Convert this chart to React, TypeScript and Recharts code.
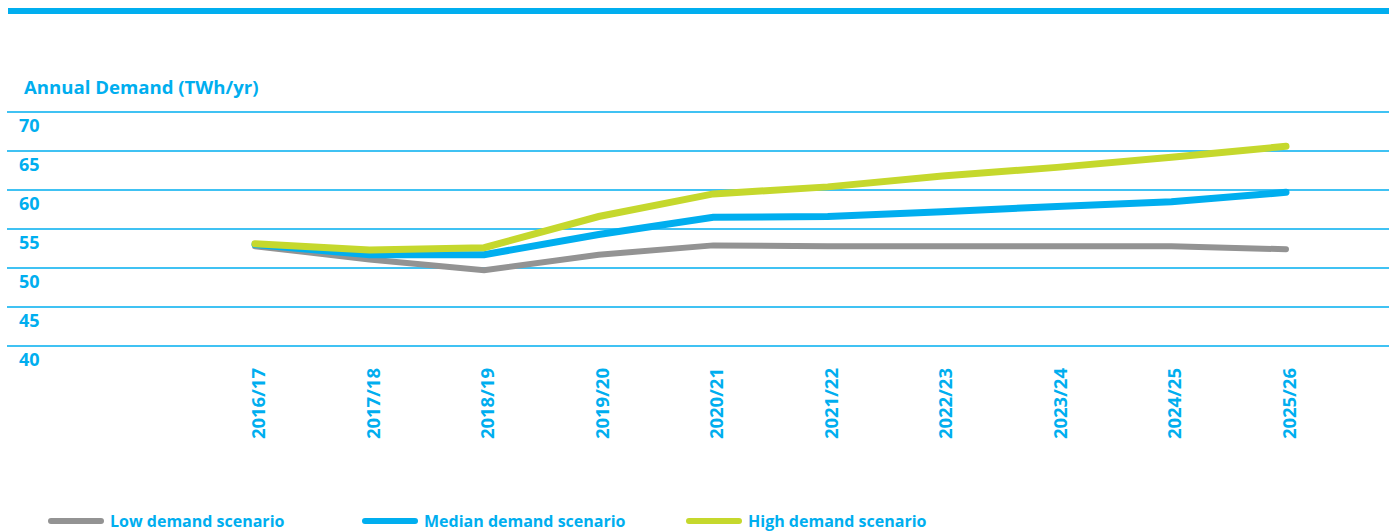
import { LineChart, Line, XAxis, YAxis, CartesianGrid } from 'recharts'

const years = ['2016/17', '2017/18', '2018/19', '2019/20', '2020/21', '2021/22', '2022/23', '2023/24', '2024/25', '2025/26']
const lowDemand = [52.8, 51.1, 49.7, 51.7, 52.9, 52.8, 52.8, 52.8, 52.8, 52.4]
const medianDemand = [53.0, 51.7, 51.7, 54.3, 56.5, 56.6, 57.2, 57.9, 58.5, 59.7]
const highDemand = [53.1, 52.3, 52.6, 56.6, 59.5, 60.4, 61.8, 62.9, 64.2, 65.6]
const yTicks = [40, 45, 50, 55, 60, 65, 70]

const BLUE = '#00AEEF'
const FONT = '"Open Sans", Arial, sans-serif'

const series = [
  { key: 'low', name: 'Low demand scenario', color: '#939393', width: 6, legendLeft: 48 },
  { key: 'median', name: 'Median demand scenario', color: '#00AEEF', width: 7, legendLeft: 362 },
  { key: 'high', name: 'High demand scenario', color: '#C5D82D', width: 7, legendLeft: 686 },
]

const chartData = years.map((year, i) => ({
  year,
  low: lowDemand[i],
  median: medianDemand[i],
  high: highDemand[i],
}))

const renderYTick = (props: any) => {
  const { y, payload } = props
  return (
    <text x={19} y={y + 20} fill={BLUE} fontFamily={FONT} fontWeight={700} fontSize={18}>
      {payload.value}
    </text>
  )
}

const renderXTick = (props: any) => {
  const { x, payload } = props
  return (
    <text
      transform={`translate(${x + 10},368) rotate(-90)`}
      textAnchor="end"
      fill={BLUE}
      fontFamily={FONT}
      fontWeight={700}
      fontSize={18.5}
    >
      {payload.value}
    </text>
  )
}

export default function App() {
  return (
    <div style={{ position: 'relative', width: 1389, height: 532, fontFamily: FONT }}>
      <style>{'body{margin:0}'}</style>
      <div style={{ position: 'absolute', left: 8, top: 8, width: 1381, height: 6, background: BLUE }} />
      <div
        style={{ position: 'absolute', left: 24, top: 74, color: BLUE, fontWeight: 700, fontSize: 18.6, lineHeight: '26px', whiteSpace: 'nowrap' }}
      >
        Annual Demand (TWh/yr)
      </div>
      <LineChart width={1389} height={532} data={chartData} margin={{ top: 112, right: 0, left: 0, bottom: 86 }}>
        <CartesianGrid vertical={false} stroke={BLUE} strokeWidth={1.5} />
        <XAxis
          dataKey="year"
          axisLine={false}
          tickLine={false}
          interval={0}
          height={100}
          padding={{ left: 248, right: 103 }}
          tick={renderXTick}
        />
        <YAxis
          domain={[40, 70]}
          ticks={yTicks}
          width={7}
          axisLine={false}
          tickLine={false}
          interval={0}
          tick={renderYTick}
        />
        {series.map((s) => (
          <Line
            key={s.key}
            dataKey={s.key}
            name={s.name}
            stroke={s.color}
            strokeWidth={s.width}
            strokeLinecap="round"
            dot={false}
            activeDot={false}
            isAnimationActive={false}
          />
        ))}
      </LineChart>
      <div style={{ position: 'absolute', left: 0, top: 510, width: 1389, height: 22 }}>
        {series.map((s) => (
          <div key={s.key} style={{ position: 'absolute', left: s.legendLeft, top: 0, display: 'flex', alignItems: 'center', height: 22 }}>
            <span style={{ display: 'inline-block', width: 56, height: 6, borderRadius: 3, background: s.color, marginRight: 6 }} />
            <span style={{ color: BLUE, fontWeight: 700, fontSize: 16, whiteSpace: 'nowrap' }}>{s.name}</span>
          </div>
        ))}
      </div>
    </div>
  )
}
